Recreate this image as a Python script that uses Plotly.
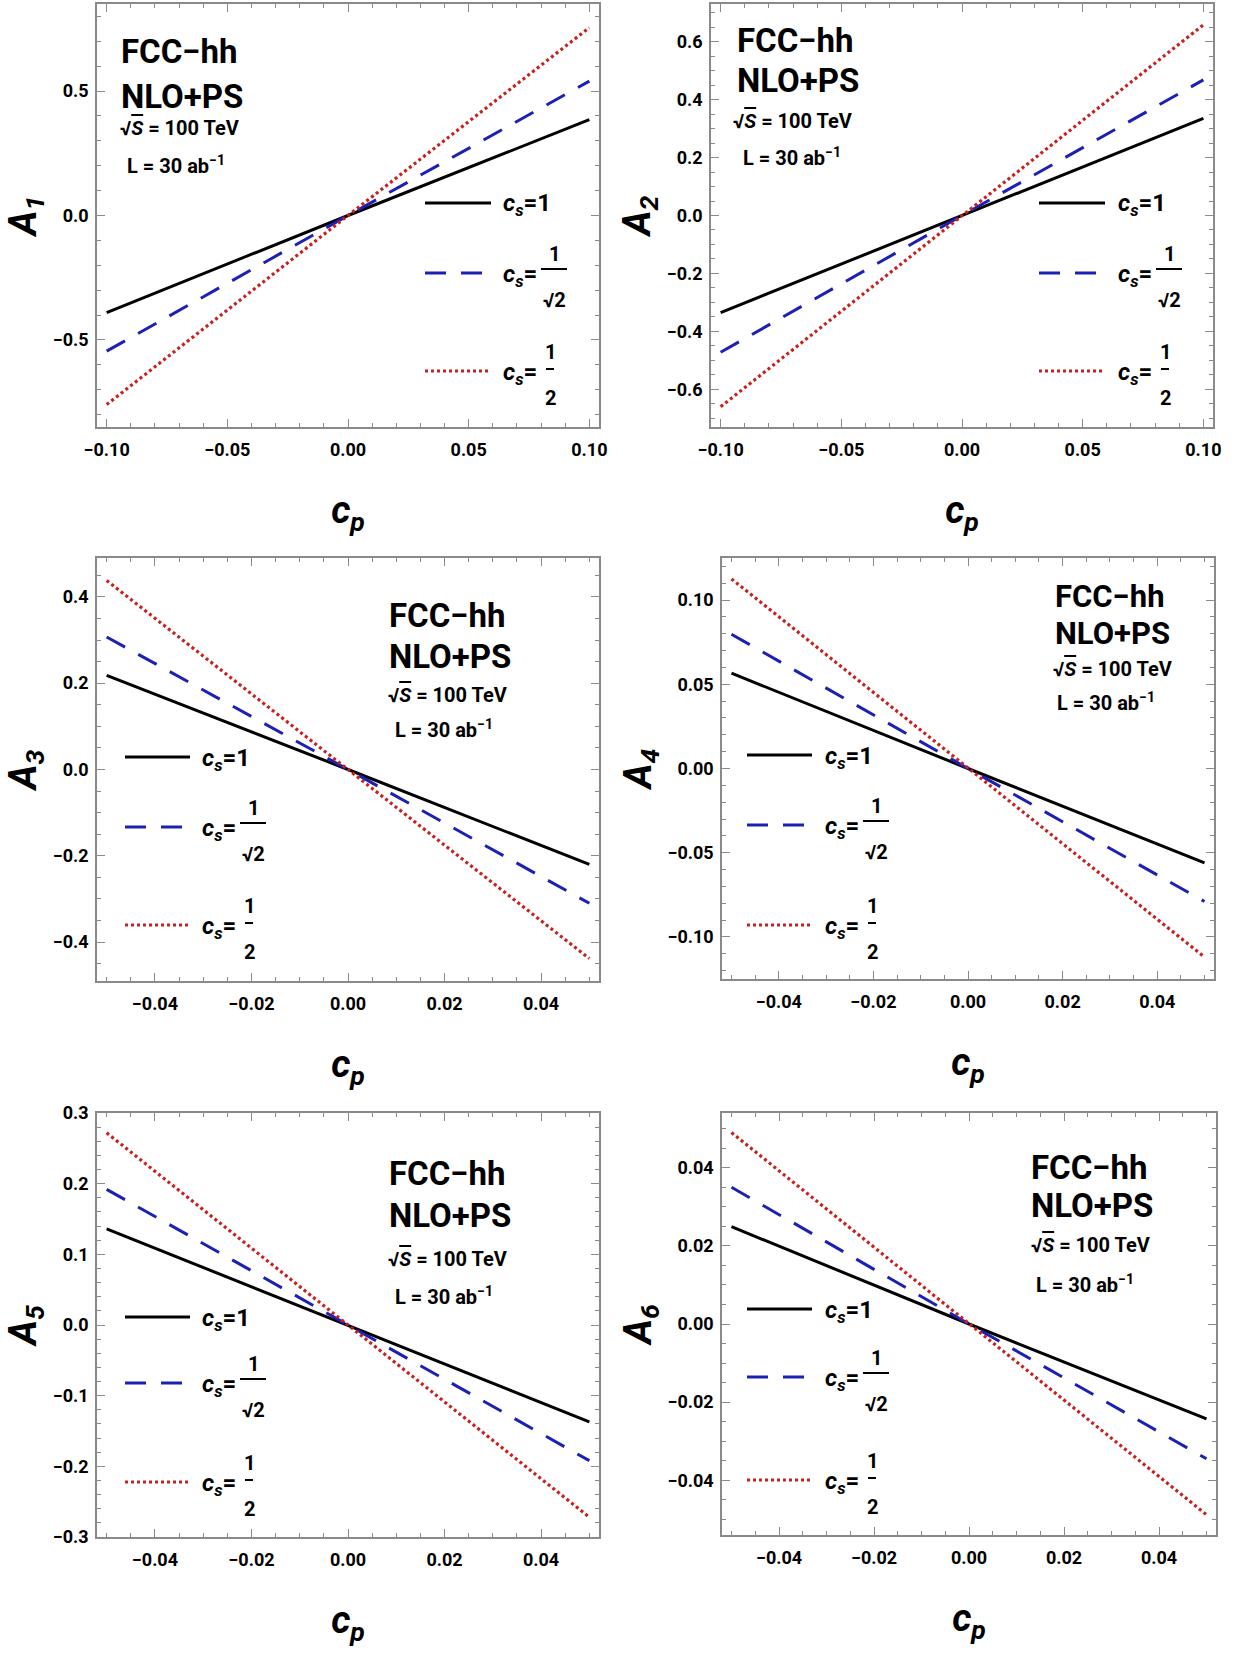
import plotly.graph_objects as go

W, H = 1242, 1655
FONT = "Roboto, 'Liberation Sans', sans-serif"

# ---------------- data ----------------
cp_wide = [-0.10, 0.00, 0.10]
cp_narrow = [-0.05, 0.00, 0.05]

series_names = ["c_s=1", "c_s=1/sqrt(2)", "c_s=1/2"]

A1_cs1 = [-0.390, 0.0, 0.385]
A1_csr2 = [-0.545, 0.0, 0.540]
A1_cs2 = [-0.760, 0.0, 0.755]

A2_cs1 = [-0.335, 0.0, 0.335]
A2_csr2 = [-0.472, 0.0, 0.468]
A2_cs2 = [-0.660, 0.0, 0.658]

A3_cs1 = [0.218, 0.0, -0.220]
A3_csr2 = [0.307, 0.0, -0.310]
A3_cs2 = [0.438, 0.0, -0.438]

A4_cs1 = [0.0566, 0.0, -0.0560]
A4_csr2 = [0.0797, 0.0, -0.0790]
A4_cs2 = [0.1126, 0.0, -0.1120]

A5_cs1 = [0.136, 0.0, -0.137]
A5_csr2 = [0.192, 0.0, -0.192]
A5_cs2 = [0.272, 0.0, -0.272]

A6_cs1 = [0.0249, 0.0, -0.0243]
A6_csr2 = [0.0350, 0.0, -0.0345]
A6_cs2 = [0.0490, 0.0, -0.0488]

y_titles = ["A<sub>1</sub>", "A<sub>2</sub>", "A<sub>3</sub>", "A<sub>4</sub>", "A<sub>5</sub>", "A<sub>6</sub>"]
x_title = "c<sub>p</sub>"

panels = [
    dict(x=cp_wide, ys=[A1_cs1, A1_csr2, A1_cs2]),
    dict(x=cp_wide, ys=[A2_cs1, A2_csr2, A2_cs2]),
    dict(x=cp_narrow, ys=[A3_cs1, A3_csr2, A3_cs2]),
    dict(x=cp_narrow, ys=[A4_cs1, A4_csr2, A4_cs2]),
    dict(x=cp_narrow, ys=[A5_cs1, A5_csr2, A5_cs2]),
    dict(x=cp_narrow, ys=[A6_cs1, A6_csr2, A6_cs2]),
]

# ---------------- styling / layout ----------------
# frame boxes in pixels: left, top, right, bottom
frames = [
    (97, 4, 599, 427),
    (711, 4, 1213, 427),
    (97, 558, 599, 981),
    (722, 558, 1214, 979),
    (97, 1113, 599, 1537),
    (722, 1113, 1216, 1535),
]
xranges = [[-0.104, 0.104], [-0.104, 0.104]] + [[-0.052, 0.052]] * 4
xticks = [(0.05, 0.01), (0.05, 0.01)] + [(0.02, 0.005)] * 4
yranges = [[-0.85, 0.85], [-0.73, 0.73], [-0.49, 0.49], [-0.125, 0.125], [-0.3, 0.3], [-0.054, 0.054]]
yticks = [(0.5, 0.1, ".1f"), (0.2, 0.05, ".1f"), (0.2, 0.05, ".1f"), (0.05, 0.01, ".2f"),
          (0.1, 0.02, ".1f"), (0.02, 0.005, ".2f")]

colors = ["#000000", "#1c20b4", "#c8201e"]
dashes = ["solid", "21px,15px", "3px,3px"]
widths = [3, 3, 3.2]

FRAME_C = "#8a8a8a"

fig = go.Figure()
for i, p in enumerate(panels):
    xa = "x" if i == 0 else f"x{i+1}"
    ya = "y" if i == 0 else f"y{i+1}"
    for j in range(3):
        fig.add_trace(go.Scatter(
            x=p["x"], y=p["ys"][j], mode="lines", name=series_names[j],
            line=dict(color=colors[j], dash=dashes[j], width=widths[j]),
            xaxis=xa, yaxis=ya, showlegend=False))

layout = dict(width=W, height=H, margin=dict(l=0, r=0, t=0, b=0),
              paper_bgcolor="white", plot_bgcolor="white", showlegend=False)

tickfont = dict(family=FONT, size=18, color="black", weight="bold")
titlefont = dict(family=FONT, size=38, color="black", weight="bold", style="italic")

for i in range(6):
    l, t, r, b = frames[i]
    xk = "xaxis" if i == 0 else f"xaxis{i+1}"
    yk = "yaxis" if i == 0 else f"yaxis{i+1}"
    xa = "x" if i == 0 else f"x{i+1}"
    ya = "y" if i == 0 else f"y{i+1}"
    common = dict(showline=True, linecolor=FRAME_C, linewidth=1.6, mirror="allticks",
                  ticks="inside", ticklen=8, tickwidth=1.3, tickcolor=FRAME_C,
                  showgrid=False, zeroline=False, tickfont=tickfont, automargin=False)
    layout[xk] = dict(common, domain=[l / W, r / W], anchor=ya, range=xranges[i],
                      tick0=0, dtick=xticks[i][0], tickformat=".2f",
                      minor=dict(ticks="inside", ticklen=4, tickcolor=FRAME_C, tickwidth=1.1,
                                 dtick=xticks[i][1], tick0=0, showgrid=False),
                      ticklabelstandoff=6,
                      title=dict(text=x_title, font=titlefont, standoff=37))
    layout[yk] = dict(common, domain=[1 - b / H, 1 - t / H], anchor=xa, range=yranges[i],
                      tick0=0, dtick=yticks[i][0], tickformat=yticks[i][2],
                      minor=dict(ticks="inside", ticklen=4, tickcolor=FRAME_C, tickwidth=1.1,
                                 dtick=yticks[i][1], tick0=0, showgrid=False),
                      ticklabelstandoff=3,
                      title=dict(text=y_titles[i], font=titlefont, standoff=4))

fig.update_layout(**layout)

# ---------------- in-plot text blocks ----------------
def px(x):
    return x / W

def py(y):
    return 1 - y / H

big = dict(family=FONT, size=33, color="black", weight="bold")
big4 = dict(family=FONT, size=31, color="black", weight="bold")
small = dict(family=FONT, size=20, color="black", weight="bold")
leg = dict(family=FONT, size=24, color="black", weight="bold")
frac = dict(family=FONT, size=20, color="black", weight="bold")

# (x_left, y_center) for FCC-hh, NLO+PS, sqrt(S), L lines
text_blocks = [
    [(119, 51), (119, 96), (118, 128), (125, 165)],
    [(735, 40), (735, 81), (731, 121), (741, 157)],
    [(387, 615), (387, 656), (386, 695), (393, 729)],
    [(1053, 596), (1053, 633), (1051, 669), (1055, 702)],
    [(387, 1173), (387, 1215), (386, 1259), (393, 1296)],
    [(1029, 1167), (1029, 1205), (1029, 1245), (1034, 1284)],
]
lines_txt = ["FCC\u2212hh", "NLO+PS",
             "\u221a<span style='text-decoration:overline'><i>S</i></span> = 100 TeV",
             "L = 30 ab<sup>\u22121</sup>"]
annotations = []
shapes = []
for bi, blk in enumerate(text_blocks):
    for k, (x, y) in enumerate(blk):
        f = (big4 if bi == 3 else big) if k < 2 else small
        annotations.append(dict(x=px(x), y=py(y), xref="paper", yref="paper", text=lines_txt[k],
                                showarrow=False, xanchor="left", yanchor="middle", font=f))

# custom legends: sample x-start, x-end, text x, y of three rows
legends = [
    (425, 491, 501, [203, 273, 371]),
    (1039, 1105, 1116, [203, 273, 371]),
    (125, 190, 200, [757, 827, 925]),
    (747, 812, 823, [755, 825, 925]),
    (125, 190, 200, [1317, 1383, 1482]),
    (747, 812, 823, [1309, 1377, 1480]),
]
cs_txt = "<i>c</i><sub><i>s</i></sub>="
for (x0, x1, xt, ys) in legends:
    for j in range(3):
        shapes.append(dict(type="line", xref="paper", yref="paper",
                           x0=px(x0), x1=px(x1), y0=py(ys[j]), y1=py(ys[j]),
                           line=dict(color=colors[j], dash=dashes[j], width=widths[j])))
        annotations.append(dict(x=px(xt), y=py(ys[j] + 2), xref="paper", yref="paper",
                                text=cs_txt + ("1" if j == 0 else ""), showarrow=False,
                                xanchor="left", yanchor="middle", font=leg))
    # fraction 1/sqrt(2)
    yc = ys[1]
    cx = xt + 53
    shapes.append(dict(type="line", xref="paper", yref="paper",
                       x0=px(cx - 13), x1=px(cx + 13), y0=py(yc - 4), y1=py(yc - 4),
                       line=dict(color="black", width=2)))
    annotations.append(dict(x=px(cx), y=py(yc - 19), xref="paper", yref="paper", text="1",
                            showarrow=False, xanchor="center", yanchor="middle", font=frac))
    annotations.append(dict(x=px(cx), y=py(yc + 27), xref="paper", yref="paper", text="\u221a2",
                            showarrow=False, xanchor="center", yanchor="middle", font=frac))
    # fraction 1/2
    yc = ys[2]
    cx = xt + 49
    shapes.append(dict(type="line", xref="paper", yref="paper",
                       x0=px(cx - 4), x1=px(cx + 4), y0=py(yc - 2), y1=py(yc - 2),
                       line=dict(color="black", width=2)))
    annotations.append(dict(x=px(cx), y=py(yc - 19), xref="paper", yref="paper", text="1",
                            showarrow=False, xanchor="center", yanchor="middle", font=frac))
    annotations.append(dict(x=px(cx), y=py(yc + 27), xref="paper", yref="paper", text="2",
                            showarrow=False, xanchor="center", yanchor="middle", font=frac))

fig.update_layout(annotations=annotations, shapes=shapes)
fig.write_html("out.html")
